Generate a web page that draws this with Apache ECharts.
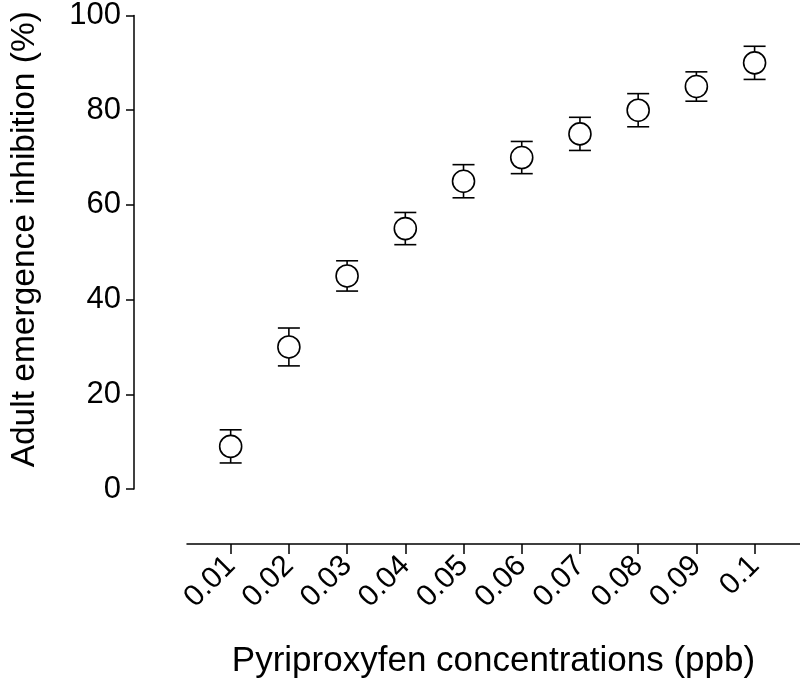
<!DOCTYPE html>
<html>
<head>
<meta charset="utf-8">
<script src="https://cdn.jsdelivr.net/npm/echarts@6/dist/echarts.min.js"></script>
<style>
html,body{margin:0;padding:0;background:#fff;}
#chart{width:800px;height:684px;}
</style>
</head>
<body>
<div id="chart"></div>
<script>
const categories = ['0.01','0.02','0.03','0.04','0.05','0.06','0.07','0.08','0.09','0.1'];
const means = [9, 30, 45, 55, 65, 70, 75, 80, 85, 90];
const errors = [3.5, 4, 3.2, 3.4, 3.5, 3.4, 3.5, 3.5, 3.1, 3.5];
const yTicks = [0, 20, 40, 60, 80, 100];

const FONT = "'Liberation Sans', Arial, sans-serif";
const positions = categories.map((c, i) => i + 1);
const scatterData = means.map((m, i) => [positions[i], m]);
const errData = means.map((m, i) => [positions[i], m - errors[i], m + errors[i]]);

const chart = echarts.init(document.getElementById('chart'), null, {renderer: 'canvas'});
chart.setOption({
  animation: false,
  backgroundColor: '#fff',
  grid: {left: 170, right: 0, top: 13, bottom: 194, containLabel: false},
  xAxis: {
    type: 'value',
    min: 0.25,
    max: 10.78,
    offset: 55,
    name: 'Pyriproxyfen concentrations (ppb)',
    nameLocation: 'middle',
    nameGap: 100,
    nameTextStyle: {fontFamily: FONT, fontSize: 35, color: '#000'},
    axisLine: {show: true, onZero: false, lineStyle: {color: '#000', width: 1.5}},
    axisTick: {show: true, inside: false, length: 10, customValues: positions, lineStyle: {color: '#000', width: 1.5}},
    axisLabel: {
      customValues: positions,
      rotate: 45,
      margin: 17,
      fontFamily: FONT,
      fontSize: 30,
      color: '#000',
      formatter: v => categories[Math.round(v) - 1]
    },
    splitLine: {show: false}
  },
  yAxis: {
    type: 'value',
    min: yTicks[0],
    max: yTicks[yTicks.length - 1],
    interval: yTicks[1] - yTicks[0],
    offset: 53,
    name: 'Adult emergence inhibition (%)',
    nameLocation: 'middle',
    nameGap: 92,
    nameRotate: 90,
    nameTextStyle: {fontFamily: FONT, fontSize: 33.5, color: '#000', padding: [0, 0, 0, 26]},
    axisLine: {show: true, lineStyle: {color: '#000', width: 1.5}},
    axisTick: {show: true, inside: false, length: 8, lineStyle: {color: '#000', width: 1.5}},
    axisLabel: {margin: 13, fontFamily: FONT, fontSize: 31, color: '#000'},
    splitLine: {show: false}
  },
  series: [
    {
      type: 'custom',
      z: 2,
      data: errData,
      renderItem: function (params, api) {
        const x = api.value(0);
        const lo = api.coord([x, api.value(1)]);
        const hi = api.coord([x, api.value(2)]);
        const half = 11;
        const style = {stroke: '#000', lineWidth: 1.6, fill: null};
        return {
          type: 'group',
          children: [
            {type: 'line', shape: {x1: lo[0], y1: lo[1], x2: hi[0], y2: hi[1]}, style: style},
            {type: 'line', shape: {x1: lo[0] - half, y1: lo[1], x2: lo[0] + half, y2: lo[1]}, style: style},
            {type: 'line', shape: {x1: hi[0] - half, y1: hi[1], x2: hi[0] + half, y2: hi[1]}, style: style}
          ]
        };
      }
    },
    {
      type: 'scatter',
      z: 3,
      symbol: 'circle',
      symbolSize: 22,
      data: scatterData,
      itemStyle: {color: '#fff', borderColor: '#000', borderWidth: 1.6, opacity: 1}
    }
  ]
});
</script>
</body>
</html>
